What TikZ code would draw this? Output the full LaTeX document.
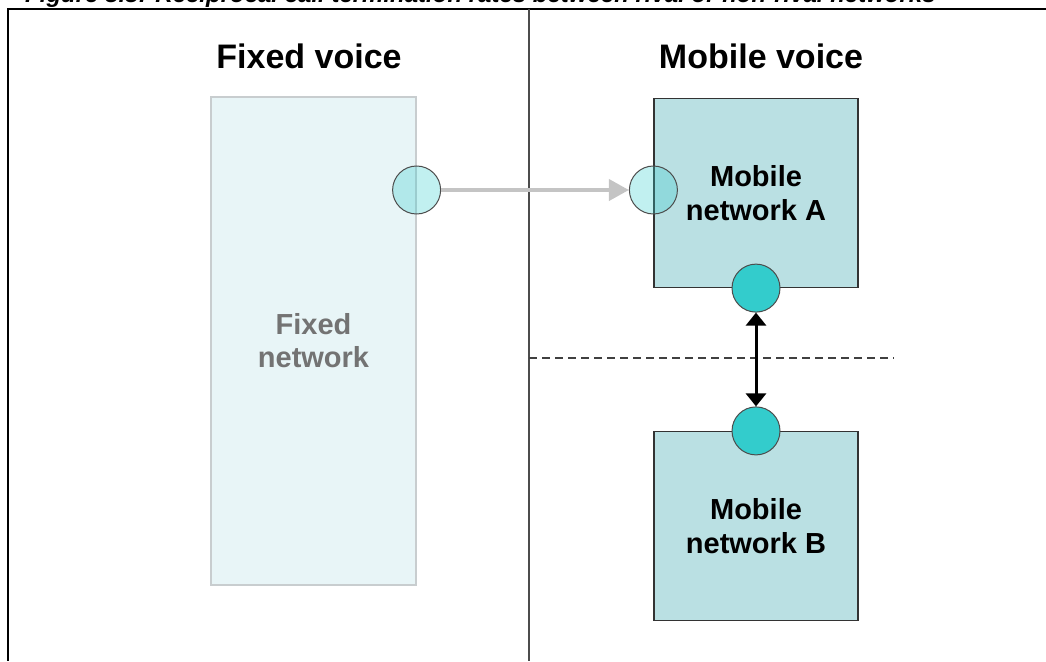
\documentclass[tikz,border=0pt]{standalone}
\usepackage{fontspec}
\setmainfont{Liberation Sans}
\usetikzlibrary{positioning,arrows.meta}
\definecolor{fixfill}{HTML}{E8F5F7}
\definecolor{fixline}{HTML}{C8CDCF}
\definecolor{mobfill}{HTML}{BAE0E3}
\definecolor{portcol}{HTML}{33CCCC}
\definecolor{arrowgray}{HTML}{C4C4C4}

\begin{document}
\begin{tikzpicture}[x=1pt,y=-1pt,on grid,node distance=333pt,
  net/.style={draw=black!80,line width=1.2pt,fill=mobfill,minimum width=204pt,minimum height=189pt,
    align=center,font=\fontsize{29}{34}\selectfont\bfseries},
  port/.style={circle,draw=black!70,line width=1pt,fill=portcol,minimum size=48pt,inner sep=0pt},
  head/.style={font=\fontsize{34}{40}\selectfont\bfseries}]
\useasboundingbox (0,0) rectangle (1046,661);
\node[anchor=base west,inner sep=0pt,font=\fontsize{24}{28}\selectfont\bfseries\itshape] (caption) at (25,3)
  {Figure 8.8: Reciprocal call termination rates between rival or non-rival networks};
\draw[line width=2pt] (1046,9) -| (8,661);
\draw[black!70,line width=1.5pt] (529,9) -- (529,661);
\node[head] (fixhead) at (309,56) {Fixed voice};
\node[head] (mobhead) at (761,56) {Mobile voice};

\node[draw=fixline,line width=1.2pt,fill=fixfill,minimum width=205pt,minimum height=488pt,
  align=center,text=black!55,font=\fontsize{29}{33}\selectfont\bfseries] (fixnet) at (313.5,341) {Fixed\\network};
\node[net] (mobA) at (756,193) {Mobile\\network A};
\node[net] (mobB) [below=of mobA] {Mobile\\network B};

\node[port,fill opacity=0.3] (fixport) at (fixnet.east |- 0,190) {};
\node[port,fill opacity=0.3] (mobAin) at (mobA.west |- 0,190) {};
\node[port] (mobAout) at (mobA.south) {};
\node[port] (mobBin) at (mobB.north) {};

\draw[black!75,line width=1.5pt,dash pattern=on 8pt off 5pt] (529,358) -- (894,358);
\path[arrowgray,line width=4pt,-{Triangle[length=20pt,width=21pt]}]
(fixport) edge (mobAin)
; %end path
\path[line width=3pt,{Triangle[length=13pt,width=20pt]}-{Triangle[length=13pt,width=20pt]}]
(mobAout) edge (mobBin)
; %end path
\end{tikzpicture}
\end{document}
